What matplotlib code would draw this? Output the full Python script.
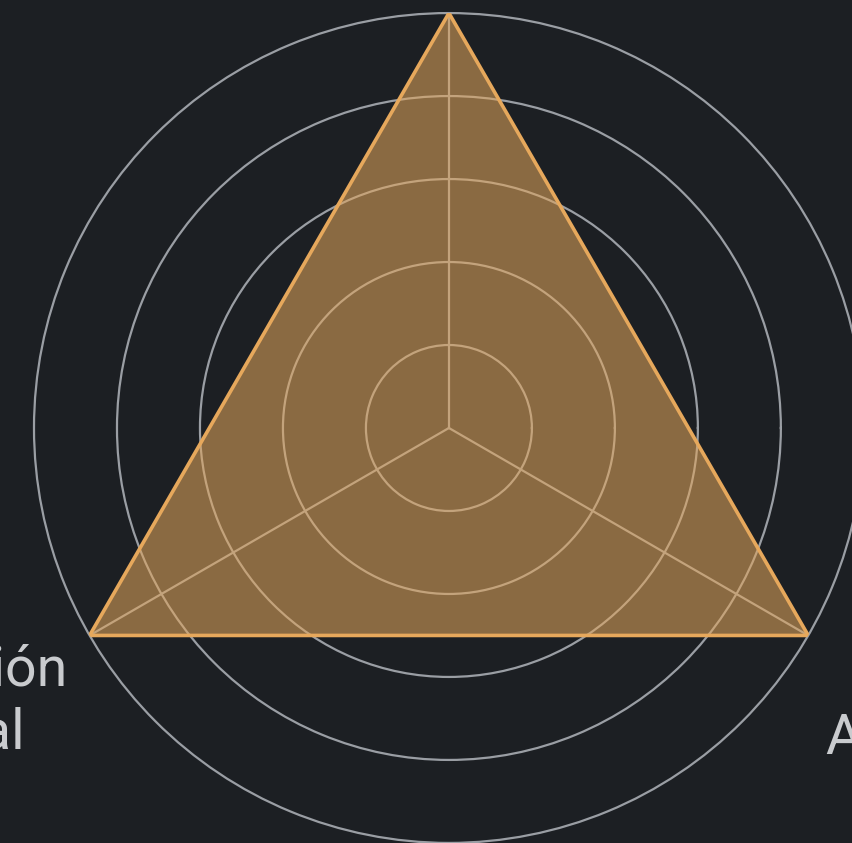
import numpy as np
import matplotlib
matplotlib.use('Agg')
import matplotlib.pyplot as plt

# datos del radar
categorias = ['Economía', 'Cohesión\nsocial', 'Ambiente']
valores = [5, 5, 5]
angulos_grados = [90, 210, 330]
anillos = [1, 2, 3, 4]

fondo = '#1c1f23'
naranja = '#e6a85c'
gris = '#9a9ea4'

plt.rcParams['font.family'] = ['Roboto', 'DejaVu Sans']

fig = plt.figure(figsize=(8.52, 8.43), dpi=100, facecolor=fondo)
ax = fig.add_axes([0.0399, 0.0, 0.974, 0.9846], projection='polar', facecolor=fondo)

theta = np.deg2rad(angulos_grados)
theta_c = np.append(theta, theta[0])
val_c = np.append(valores, valores[0])

ax.set_ylim(0, 5)
ax.set_yticks(anillos)
ax.set_yticklabels([])
ax.set_xticks(theta)
ax.set_xticklabels([])
ax.grid(True, color=gris, linewidth=1.6)
ax.spines['polar'].set_color(gris)
ax.spines['polar'].set_linewidth(1.6)
ax.tick_params(length=0)

ax.fill(theta_c, val_c, color=naranja, alpha=0.55, zorder=3)
ax.plot(theta_c, val_c, color=naranja, linewidth=2.6, zorder=4)

# etiquetas
estilo = dict(color='#c9cbce', fontsize=40, clip_on=False)
ax.text(theta[0], 5.9, categorias[0], ha='center', va='center', **estilo)
ax.text(np.deg2rad(215.7), 5.65, categorias[1], ha='right', va='center',
        multialignment='center', linespacing=1.25, **estilo)
ax.text(np.deg2rad(320.5), 5.87, categorias[2], ha='left', va='center', **estilo)

fig.savefig('out.png', dpi=100, facecolor=fondo)
